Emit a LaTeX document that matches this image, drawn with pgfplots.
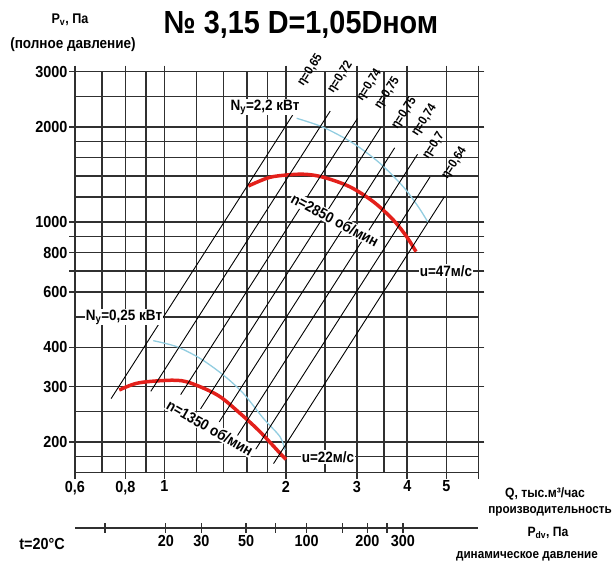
\documentclass[border=0pt]{standalone}
\usepackage{fontspec}
\setmainfont{Liberation Sans}[FakeStretch=0.9]
\usepackage{pgfplots}
\pgfplotsset{compat=1.18}
\definecolor{gridc}{HTML}{303030}
\definecolor{fanred}{HTML}{E3201B}
\definecolor{powblue}{HTML}{92CDE0}
\newcommand\tickfont{\fontsize{16}{18}\selectfont\bfseries}
\newcommand\labfont{\fontsize{15}{17}\selectfont\bfseries}
\newcommand\etafont{\fontsize{12.5}{14}\selectfont\bfseries}
\begin{document}
\begin{tikzpicture}[x=1pt,y=1pt]
\useasboundingbox (0,0) rectangle (614,566);
\begin{axis}[
  at={(75pt,93.3pt)}, anchor=south west,
  scale only axis, width=403.3pt, height=401pt,
  xmode=log, ymode=log,
  xmin=0.6, xmax=6, ymin=160, ymax=3000,
  xtick={0.6,0.8,1,2,3,4,5,6},
  xticklabels={{0,6},{0,8},1,2,3,4,5,{}},
  minor xtick={0.7,0.9,1.2,1.4,1.6,1.8,2.5,3.5},
  ytick={200,300,400,600,700,800,900,1000,2000,3000},
  yticklabels={200,300,400,600,{},800,{},1000,2000,3000},
  minor ytick={180,250,500,1200,1400,1600,1800,2500},
  grid=both,
  major grid style={line width=1.6pt, color=gridc},
  minor grid style={line width=1.6pt, color=gridc},
  axis line style={line width=1.6pt, color=gridc},
  tick align=outside,
  major tick length=6pt,
  minor tick length=0pt,
  tick style={line width=1.6pt, color=gridc},
  xticklabel style={font=\tickfont, inner sep=2pt},
  yticklabel style={font=\tickfont, inner sep=1.5pt},
  clip=false,
]
% fan curves
\addplot[fanred, line width=3.5pt, smooth, tension=0.55] coordinates {
  (1.614,1301) (1.792,1376) (1.934,1403) (2.209,1418) (2.476,1387)
  (2.879,1294) (3.294,1160) (3.693,1015) (3.986,898) (4.204,805)};
\addplot[fanred, line width=3.5pt, smooth, tension=0.55] coordinates {
  (0.7725,292.8) (0.853,307.5) (0.975,313.4) (1.103,313.4) (1.225,300)
  (1.373,278.9) (1.539,247) (1.725,215.9) (1.935,184.4) (2.001,176.4)};
% power curves
\addplot[powblue, line width=1.3pt, smooth] coordinates {
  (2.127,2134) (2.476,1998) (2.939,1777) (3.422,1536) (3.909,1294)
  (4.259,1118) (4.510,994)};
\addplot[powblue, line width=1.3pt, smooth] coordinates {
  (0.938,420) (1.072,402) (1.225,369) (1.399,326.8) (1.568,285.8)
  (1.758,238.2) (1.934,208.2) (1.990,188.9)};
% efficiency lines P = k Q^2
\addplot[black, line width=0.9pt] coordinates {(0.7375,275) (2.156,2350)};
\addplot[black, line width=0.9pt] coordinates {(0.9249,290) (2.5763,2250)};
\addplot[black, line width=0.9pt] coordinates {(1.0967,283) (3.0087,2130)};
\addplot[black, line width=0.9pt] coordinates {(1.2287,255) (3.4411,2000)};
\addplot[black, line width=0.9pt] coordinates {(1.3673,232) (3.7229,1720)};
\addplot[black, line width=0.9pt] coordinates {(1.5174,210) (4.2406,1640)};
\addplot[black, line width=0.9pt] coordinates {(1.684,190) (4.5548,1390)};
\addplot[black, line width=0.9pt] coordinates {(1.8643,171) (4.9387,1200)};
\end{axis}
% dynamic pressure scale
\begin{axis}[
  at={(75pt,38pt)}, anchor=south west,
  scale only axis, width=403.3pt, height=1pt,
  xmode=log, xmin=7.092, xmax=709.2, ymin=0, ymax=1,
  axis x line*=bottom, axis y line=none,
  xtick={10,20,30,50,70,100,150,200,250,300},
  xticklabels={{},20,30,50,{},100,{},200,{},300},
  tick align=center, major tick length=10pt,
  axis line style={line width=1.3pt, color=gridc},
  tick style={line width=1.3pt, color=gridc},
  xticklabel style={font=\tickfont, inner sep=2pt},
]
\addplot[draw=none] coordinates {(10,0)};
\end{axis}
% texts
\node[font=\fontsize{32}{36}\selectfont\bfseries] at (301,541) {№ 3,15 D=1,05Dном};
\node[font=\fontsize{14}{16}\selectfont\bfseries] at (70,546) {P\textsubscript{v}, Па};
\node[font=\fontsize{15}{17}\selectfont\bfseries] at (73,521) {(полное давление)};
\node[font=\fontsize{13.5}{15}\selectfont\bfseries] at (545,72) {Q, тыс.м³/час};
\node[font=\fontsize{13}{15}\selectfont\bfseries] at (550,55) {производительность};
\node[font=\fontsize{13.5}{15}\selectfont\bfseries] at (548,33) {P\textsubscript{dv}, Па};
\node[font=\fontsize{13}{15}\selectfont\bfseries] at (527,10) {динамическое давление};
\node[font=\tickfont] at (42,22) {t=20°C};
% curve labels
\node[font=\labfont, fill=white, inner sep=1pt, rotate=-28] at (335,346) {n=2850 об/мин};
\node[font=\labfont, fill=white, inner sep=1pt, rotate=-30] at (210,138) {n=1350 об/мин};
\node[font=\labfont, fill=white, inner sep=1pt] at (265,459) {N\textsubscript{y}=2,2 кВт};
\node[font=\labfont, fill=white, inner sep=1pt] at (124,249) {N\textsubscript{y}=0,25 кВт};
\node[font=\labfont, fill=white, inner sep=1pt] at (446,295) {u=47м/с};
\node[font=\labfont, fill=white, inner sep=1pt] at (328,109) {u=22м/с};
% efficiency labels
\node[font=\etafont, rotate=57.4, anchor=south west, inner sep=1pt] at (306,476) {η=0,65};
\node[font=\etafont, rotate=57.4, anchor=south west, inner sep=1pt] at (336,469) {η=0,72};
\node[font=\etafont, rotate=57.4, anchor=south west, inner sep=1pt] at (365,461) {η=0,74};
\node[font=\etafont, rotate=57.4, anchor=south west, inner sep=1pt] at (383,453) {η=0,75};
\node[font=\etafont, rotate=57.4, anchor=south west, inner sep=1pt] at (400,433) {η=0,75};
\node[font=\etafont, rotate=57.4, anchor=south west, inner sep=1pt] at (420,426) {η=0,74};
\node[font=\etafont, rotate=57.4, anchor=south west, inner sep=1pt] at (431,403) {η=0,7};
\node[font=\etafont, rotate=57.4, anchor=south west, inner sep=1pt] at (450,383) {η=0,64};
\end{tikzpicture}
\end{document}
